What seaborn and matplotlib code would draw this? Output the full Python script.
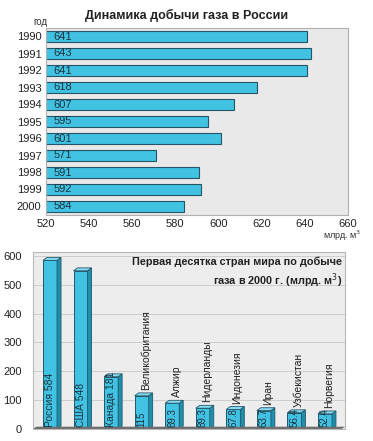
import seaborn as sns
import pandas as pa
import matplotlib.pyplot as plt
from matplotlib.patches import Polygon

# Données du graphique du haut : production de gaz en Russie
years = ["1990", "1991", "1992", "1993", "1994", "1995", "1996", "1997", "1998", "1999", "2000"]
production = [641, 643, 641, 618, 607, 595, 601, 571, 591, 592, 584]

# Données du graphique du bas : dix premiers pays en 2000
countries = ["Россия", "США", "Канада", "Великобритания", "Алжир", "Нидерланды",
             "Индонезия", "Иран", "Узбекистан", "Норвегия"]
country_values = [584, 548, 181, 115, 89.3, 72, 67.8, 63.7, 56.4, 52.4]
value_labels = ["584", "548", "181", "115", "89.3", "89.3", "67.8", "63.7", "56.4", "52.4"]

sns.set_theme(style="white")
plt.rcParams["font.family"] = ["Liberation Sans", "DejaVu Sans"]
narrow = ["Liberation Sans Narrow", "Liberation Sans", "DejaVu Sans"]

W, H = 373, 441
fig = plt.figure(figsize=(W / 100, H / 100), dpi=100)
fig.patch.set_facecolor("white")

def box(x0, y0, x1, y1):
    # coordonnées en pixels (origine en haut à gauche) -> fraction de figure
    return [x0 / W, 1 - y1 / H, (x1 - x0) / W, (y1 - y0) / H]

bar_col = "#42c2e2"
edge_col = "#24566a"
text_col = "#1c3440"

# ---------- Graphique du haut ----------
ax1 = fig.add_axes(box(45.7, 28, 348, 215))
df_top = pa.DataFrame({"Год": years, "Добыча": production})
sns.barplot(data=df_top, x="Добыча", y="Год", orient="h", color=bar_col,
            width=0.6, edgecolor=edge_col, linewidth=0.8, saturation=1, ax=ax1)
ax1.set_xlim(520, 660)
ax1.set_facecolor("#e9e9e9")
for s in ax1.spines.values():
    s.set_color("#b0b0b0")
    s.set_linewidth(0.8)
ax1.set_xticks(range(520, 661, 20))
ax1.tick_params(axis="both", length=0, labelsize=8, colors="#222222", pad=3)
ax1.set_xlabel("")
ax1.set_ylabel("")
for i, v in enumerate(production):
    ax1.text(523.5, i, str(v), va="center", ha="left", fontsize=8, color=text_col)
fig.text(40 / W, 1 - 27 / H, "год", fontsize=7, ha="center", va="bottom", color="#333333")
fig.text(187 / W, 1 - 15 / H, "Динамика добычи газа в России", fontsize=9,
         fontweight="bold", ha="center", va="center", color="#222222", family=narrow)
fig.text(342 / W, 1 - 236 / H, "млрд. м$^3$", fontsize=6.5, ha="center", va="center",
         color="#333333")

# ---------- Graphique du bas ----------
ax2 = fig.add_axes(box(33, 252, 345, 429))
df_bot = pa.DataFrame({"Страна": countries, "Добыча": country_values})
sns.barplot(data=df_bot, x="Страна", y="Добыча", color=bar_col, width=0.46,
            edgecolor=edge_col, linewidth=0.7, saturation=1, ax=ax2)
ax2.set_xlim(-0.557, 9.656)
ax2.set_ylim(0, 613)
ax2.set_facecolor("#ededed")
ax2.set_yticks(range(0, 601, 100))
ax2.yaxis.grid(True, color="#c8c8c8", linewidth=0.6)
ax2.set_axisbelow(True)
ax2.set_xticks([])
ax2.set_xlabel("")
ax2.set_ylabel("")
ax2.tick_params(axis="y", length=0, labelsize=8, colors="#222222", pad=8)
for s in ax2.spines.values():
    s.set_color("#b8b8b8")
    s.set_linewidth(0.8)

# effet 3D : face latérale et dessus de chaque barre
dx, dy = 0.13, 10
for p in list(ax2.patches):
    x, w, h = p.get_x(), p.get_width(), p.get_height()
    side = Polygon([(x + w, 0), (x + w + dx, dy), (x + w + dx, h + dy), (x + w, h)],
                   closed=True, facecolor="#1f8fae", edgecolor=edge_col, linewidth=0.6)
    top = Polygon([(x, h), (x + dx, h + dy), (x + w + dx, h + dy), (x + w, h)],
                  closed=True, facecolor="#86dbf0", edgecolor=edge_col, linewidth=0.6)
    ax2.add_patch(side)
    ax2.add_patch(top)

# sol sombre
floor = Polygon([(-0.557, 0), (-0.45, 8), (9.656, 8), (9.55, 0)], closed=True,
                facecolor="#6d6d6d", edgecolor="none", clip_on=False)
ax2.add_patch(floor)

for i, (name, lab, v) in enumerate(zip(countries, value_labels, country_values)):
    if i < 3:
        ax2.text(i, 6, f"{name} {lab}", rotation=90, ha="center", va="bottom",
                 fontsize=7.5, color=text_col)
    else:
        ax2.text(i, 6, lab, rotation=90, ha="center", va="bottom", fontsize=7,
                 color=text_col)
        ax2.text(i + 0.14, v + 20, name, rotation=90, ha="center", va="bottom",
                 fontsize=7.5, color="#222222")

ax2.text(9.55, 598, "Первая десятка стран мира по добыче\nгаза в 2000 г. (млрд. м$^3$)",
         ha="right", va="top", fontsize=7.8, fontweight="bold", color="#222222",
         family=narrow, linespacing=1.35)

fig.savefig("out.png", dpi=100)
